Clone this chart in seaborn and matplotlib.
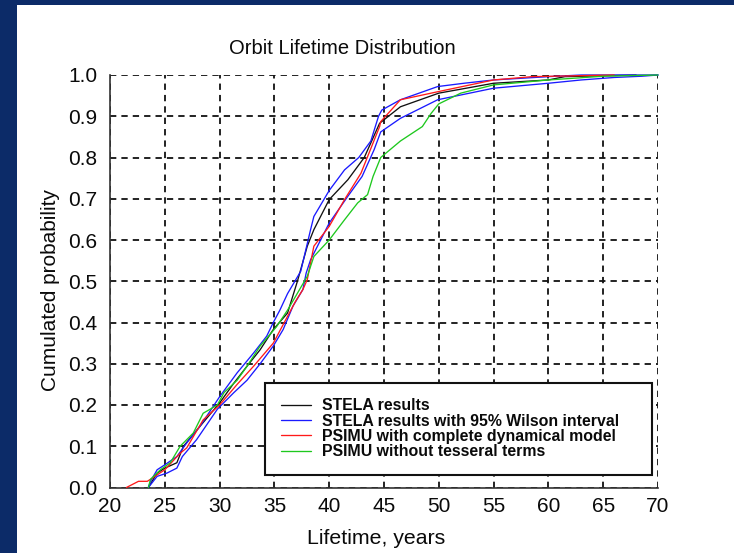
import matplotlib
matplotlib.use("Agg")
import matplotlib.pyplot as plt
from matplotlib.patches import Rectangle
from matplotlib.lines import Line2D
from matplotlib.ticker import MultipleLocator
import seaborn as sns

# Empirical cumulative distributions of orbit lifetime (years)
stela_x = [23.5, 24.3, 25.0, 26.1, 26.7, 28.2, 30.0, 31.3, 32.5, 33.7, 34.9, 36.2, 37.1,
           38.0, 38.6, 40.0, 41.7, 43.2, 44.6, 46.5, 50.0, 55.0, 60.0, 61.5, 68.0]
stela_y = [0.0, 0.035, 0.047, 0.06, 0.10, 0.148, 0.205, 0.253, 0.294, 0.334, 0.383, 0.423, 0.50,
           0.585, 0.625, 0.698, 0.746, 0.80, 0.883, 0.923, 0.956, 0.98, 0.988, 0.996, 1.0]

wilson_hi_x = [23.5, 23.7, 24.3, 25.0, 26.1, 27.0, 28.2, 30.0, 31.6, 33.1, 34.3, 34.9, 35.5,
               36.2, 37.4, 38.3, 38.6, 40.0, 41.4, 42.7, 43.8, 44.5, 44.8, 46.5, 49.9, 52.3,
               55.0, 60.0, 63.0, 70.0]
wilson_hi_y = [0.0, 0.015, 0.043, 0.055, 0.075, 0.108, 0.148, 0.22, 0.278, 0.326, 0.367, 0.40, 0.43,
               0.47, 0.524, 0.625, 0.657, 0.72, 0.77, 0.80, 0.84, 0.90, 0.915, 0.94, 0.972, 0.98,
               0.988, 0.996, 1.0, 1.0]

wilson_lo_x = [23.5, 24.3, 25.2, 26.1, 26.6, 27.9, 29.8, 31.3, 32.5, 33.7, 34.9, 35.8, 36.7,
               37.6, 37.9, 38.3, 40.0, 41.7, 43.0, 44.1, 44.7, 46.5, 49.9, 55.0, 60.0, 63.0,
               66.0, 68.5, 70.0]
wilson_lo_y = [0.0, 0.027, 0.035, 0.047, 0.075, 0.116, 0.19, 0.23, 0.26, 0.30, 0.343, 0.383, 0.44,
               0.48, 0.52, 0.552, 0.641, 0.706, 0.754, 0.819, 0.862, 0.895, 0.94, 0.968, 0.98, 0.988,
               0.994, 0.997, 1.0]

psimu_x = [21.5, 22.6, 23.4, 23.7, 25.0, 26.4, 27.0, 28.5, 30.0, 31.6, 33.1, 34.9, 36.2, 36.9,
           37.6, 38.0, 38.6, 40.0, 41.4, 42.9, 44.6, 44.7, 46.5, 50.0, 55.0, 58.5, 66.0]
psimu_y = [0.0, 0.015, 0.015, 0.02, 0.043, 0.083, 0.096, 0.164, 0.20, 0.25, 0.294, 0.35, 0.415, 0.45,
           0.48, 0.504, 0.585, 0.633, 0.698, 0.762, 0.875, 0.887, 0.94, 0.96, 0.988, 0.996, 1.0]

psimu_nt_x = [23.5, 23.7, 24.6, 25.5, 26.4, 27.6, 28.5, 29.8, 30.4, 31.6, 32.5, 33.7, 35.2, 36.2,
              38.0, 38.6, 40.0, 41.4, 42.6, 43.5, 44.0, 44.7, 46.5, 48.5, 49.3, 50.0, 52.0, 55.0,
              60.0, 65.0, 70.0]
psimu_nt_y = [0.0, 0.02, 0.043, 0.06, 0.10, 0.132, 0.18, 0.20, 0.23, 0.26, 0.294, 0.343, 0.39, 0.43,
              0.512, 0.56, 0.60, 0.649, 0.69, 0.71, 0.754, 0.80, 0.84, 0.875, 0.907, 0.93, 0.956, 0.976,
              0.988, 0.997, 1.0]

legend_labels = ["STELA results", "STELA results with 95% Wilson interval",
                 "PSIMU with complete dynamical model", "PSIMU without tesseral terms"]
x_ticks = [20, 25, 30, 35, 40, 45, 50, 55, 60, 65, 70]
y_ticks = [0.0, 0.1, 0.2, 0.3, 0.4, 0.5, 0.6, 0.7, 0.8, 0.9, 1.0]

sns.set_style("white")
plt.rcParams["font.family"] = ["Liberation Sans", "DejaVu Sans"]

W, H = 734, 553
fig = plt.figure(figsize=(W / 100, H / 100), dpi=100)
fig.patch.set_facecolor("#0c2b68")
fig.patches.append(Rectangle((17 / W, 0), 1 - 17 / W, 1 - 5 / H, transform=fig.transFigure,
                             facecolor="white", edgecolor="none", zorder=-10))

ax = fig.add_axes([110 / W, 1 - 487.5 / H, 548 / W, 412.5 / H])
ax.set_facecolor("none")
ax.set_zorder(2)

ink = "#0a0a0a"
c_black, c_blue, c_red, c_green = "#111111", "#1a1aff", "#ff1a1a", "#1ec81e"
lw = 0.95
series = [
    (stela_x, stela_y, c_black),
    (wilson_hi_x, wilson_hi_y, c_blue),
    (wilson_lo_x, wilson_lo_y, c_blue),
    (psimu_x, psimu_y, c_red),
    (psimu_nt_x, psimu_nt_y, c_green),
]
for xs, ys, col in series:
    sns.lineplot(x=xs, y=ys, ax=ax, color=col, linewidth=lw, estimator=None,
                 sort=False, clip_on=False, zorder=3)

ax.set_xlim(20, 70)
ax.set_ylim(0, 1)
ax.set_xticks(x_ticks)
ax.set_yticks(y_ticks)
ax.set_xticklabels([str(t) for t in x_ticks])
ax.set_yticklabels([f"{t:.1f}" for t in y_ticks])
ax.yaxis.set_minor_locator(MultipleLocator(0.05))

ax.grid(True, which="major", color="#111111", linestyle=(0, (3.5, 2.8)), linewidth=1.3)
for side in ["top", "right"]:
    ax.spines[side].set_visible(False)
for side in ["left", "bottom"]:
    ax.spines[side].set_color("#333333")
    ax.spines[side].set_linewidth(1.2)
ax.tick_params(axis="both", which="major", direction="inout", length=8, width=1.0,
               color="#333333", labelsize=15, labelcolor=ink)
ax.tick_params(axis="y", which="major", pad=5)
ax.tick_params(axis="x", which="major", pad=3)
ax.tick_params(axis="y", which="minor", direction="out", length=4, width=1.0, color="#333333")
ax.tick_params(axis="x", which="minor", length=0)

ax.set_xlabel("Lifetime, years", fontsize=15.3, color=ink, labelpad=9)
ax.set_ylabel("Cumulated probability", fontsize=15, color=ink, labelpad=6)
ax.xaxis.label.set_x(0.485)
ax.yaxis.label.set_y(0.479)
fig.text(342 / W, 1 - 48 / H, "Orbit Lifetime Distribution", fontsize=14.5, color=ink,
         ha="center", va="center")

handles = [Line2D([], [], color=c, linewidth=lw) for c in (c_black, c_blue, c_red, c_green)]
leg = ax.legend(handles, legend_labels, loc="lower left", mode="expand",
                bbox_to_anchor=(0.283, 0.03, 0.706, 0.22),
                prop={"weight": "bold", "size": 11.4}, handlelength=1.9, handletextpad=0.7,
                labelspacing=0.02, borderpad=1.0, fancybox=False, framealpha=1,
                edgecolor="#111111", borderaxespad=0)
leg.get_frame().set_linewidth(1.5)
for t in leg.get_texts():
    t.set_color(ink)
leg.set_zorder(5)

fig.savefig("out.png", dpi=100, facecolor=fig.get_facecolor())
